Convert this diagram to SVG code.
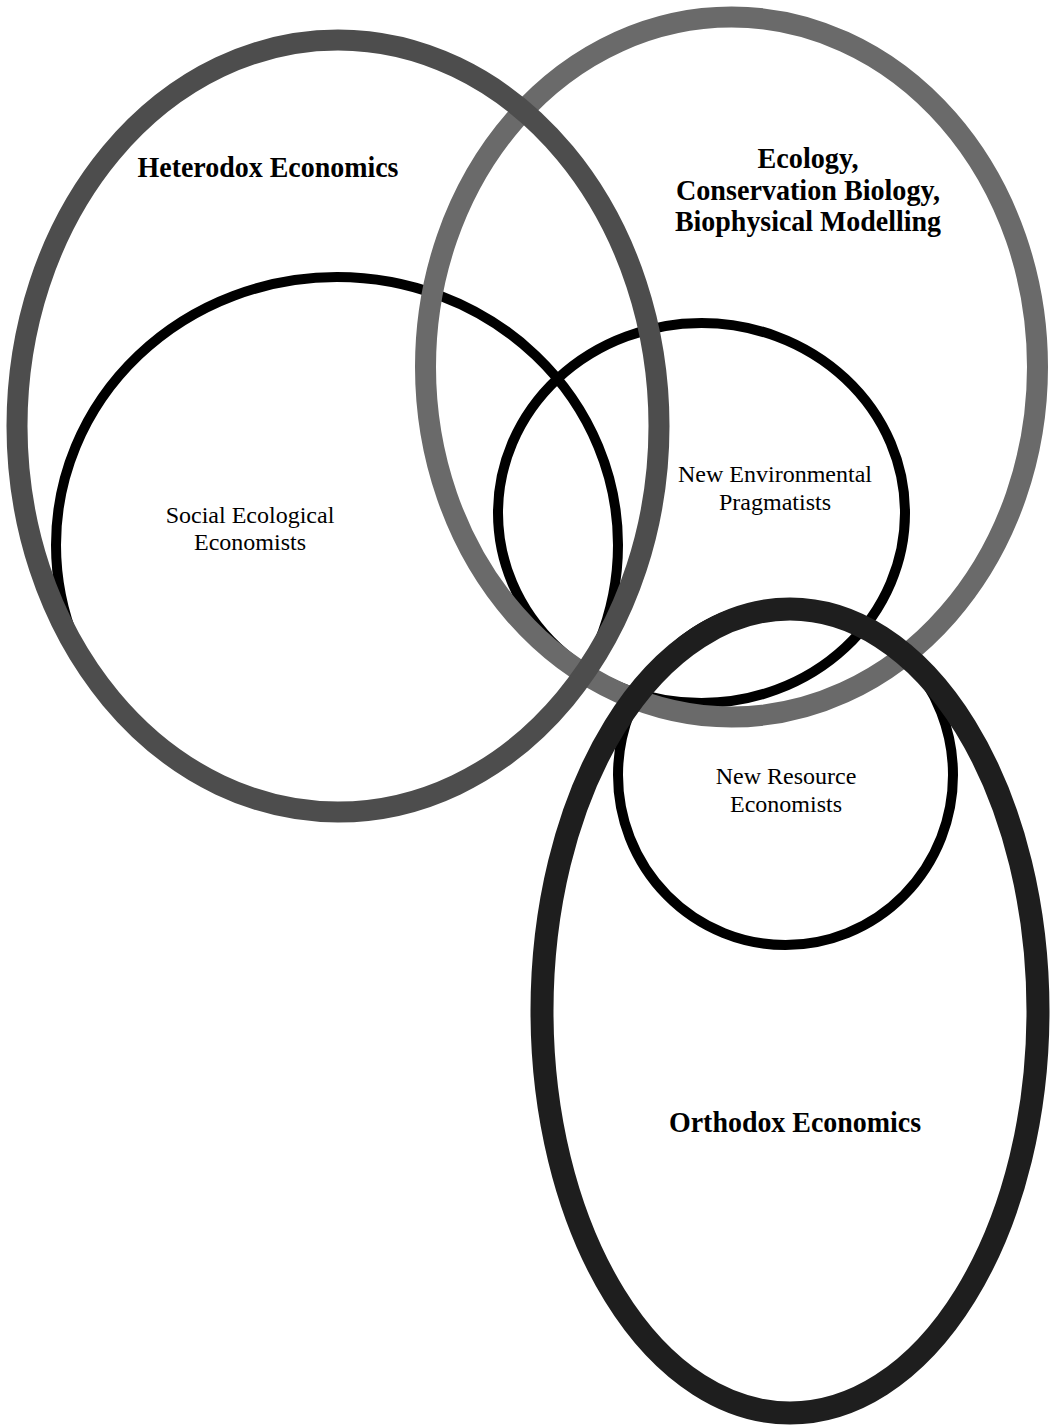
<svg xmlns="http://www.w3.org/2000/svg" width="1052" height="1426" viewBox="0 0 1052 1426">
<style>
.ring{fill:none}
.inner{fill:none;stroke:#000;stroke-width:10}
.big{font-family:"Liberation Serif","Times New Roman",serif;font-weight:bold;font-size:30px;fill:#000;text-anchor:middle}
.small{font-family:"Liberation Serif","Times New Roman",serif;font-size:24px;fill:#000;text-anchor:middle}
</style>
<rect width="1052" height="1426" fill="#fff"/>
<g id="social-ecological-economists">
<ellipse class="inner" cx="337" cy="545" rx="281" ry="268"/>
<text class="small" x="250" y="523">Social Ecological</text>
<text class="small" x="250" y="550">Economists</text>
</g>
<g id="new-environmental-pragmatists">
<ellipse class="inner" cx="701.5" cy="513" rx="203.5" ry="190"/>
<text class="small" x="775" y="482">New Environmental</text>
<text class="small" x="775" y="510">Pragmatists</text>
</g>
<g id="new-resource-economists">
<ellipse class="inner" cx="785.5" cy="775" rx="167.5" ry="170"/>
<text class="small" x="786" y="784">New Resource</text>
<text class="small" x="786" y="812">Economists</text>
</g>
<g id="ecology">
<ellipse class="ring" cx="731.5" cy="367" rx="306" ry="350" stroke="#6a6a6a" stroke-width="21"/>
<text class="big" x="808" y="168" textLength="101" lengthAdjust="spacingAndGlyphs">Ecology,</text>
<text class="big" x="808" y="200" textLength="264" lengthAdjust="spacingAndGlyphs">Conservation Biology,</text>
<text class="big" x="808" y="231" textLength="266" lengthAdjust="spacingAndGlyphs">Biophysical Modelling</text>
</g>
<g id="heterodox-economics">
<ellipse class="ring" cx="338" cy="426" rx="321" ry="386" stroke="#4d4d4d" stroke-width="21"/>
<text class="big" x="268" y="177" textLength="261" lengthAdjust="spacingAndGlyphs">Heterodox Economics</text>
</g>
<g id="orthodox-economics">
<ellipse class="ring" cx="790" cy="1011" rx="248" ry="402" stroke="#1e1e1e" stroke-width="23"/>
<text class="big" x="795" y="1132" textLength="252" lengthAdjust="spacingAndGlyphs">Orthodox Economics</text>
</g>
<g id="connectors"></g>
</svg>
